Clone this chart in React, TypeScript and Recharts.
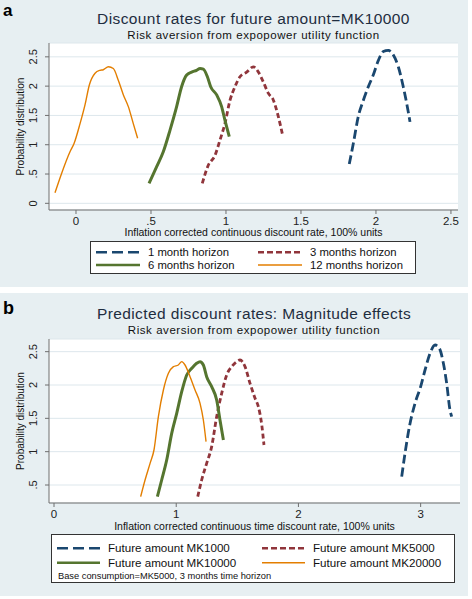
import { LineChart, Line, XAxis, YAxis, CartesianGrid, Label } from "recharts";

type Pt = [number, number];

// panel a: horizons, future amount MK10000
const H1_MONTH: Pt[] = [[1.822, 0.67], [1.849, 1.02], [1.882, 1.48], [1.916, 1.76], [1.949, 1.99], [1.982, 2.19], [2.016, 2.44], [2.049, 2.59], [2.082, 2.61], [2.116, 2.53], [2.149, 2.33], [2.182, 1.99], [2.209, 1.65], [2.227, 1.39]];
const H3_MONTHS: Pt[] = [[0.842, 0.34], [0.882, 0.65], [0.927, 0.82], [0.96, 1.08], [0.993, 1.36], [1.027, 1.76], [1.06, 1.99], [1.093, 2.16], [1.138, 2.24], [1.182, 2.33], [1.216, 2.24], [1.249, 2.07], [1.282, 1.88], [1.316, 1.76], [1.349, 1.48], [1.378, 1.16]];
const H6_MONTHS: Pt[] = [[0.487, 0.34], [0.538, 0.625], [0.582, 0.88], [0.627, 1.25], [0.671, 1.65], [0.704, 1.99], [0.738, 2.19], [0.771, 2.24], [0.804, 2.27], [0.827, 2.3], [0.849, 2.29], [0.876, 2.16], [0.898, 1.99], [0.938, 1.85], [0.971, 1.65], [0.993, 1.42], [1.022, 1.14]];
const H12_MONTHS: Pt[] = [[-0.14, 0.18], [-0.096, 0.51], [-0.04, 0.88], [-0.013, 1.02], [0.027, 1.36], [0.06, 1.68], [0.089, 2.02], [0.127, 2.22], [0.16, 2.27], [0.182, 2.28], [0.216, 2.33], [0.249, 2.3], [0.282, 2.1], [0.316, 1.85], [0.349, 1.65], [0.382, 1.36], [0.411, 1.11]];

// panel b: magnitude effects
const MK1000: Pt[] = [[2.845, 0.625], [2.872, 0.975], [2.908, 1.375], [2.954, 1.725], [3.0, 1.975], [3.036, 2.225], [3.077, 2.475], [3.118, 2.6], [3.153, 2.55], [3.186, 2.325], [3.213, 2.025], [3.24, 1.625], [3.254, 1.525]];
const MK5000: Pt[] = [[1.176, 0.325], [1.208, 0.575], [1.249, 0.825], [1.29, 1.075], [1.331, 1.525], [1.372, 1.875], [1.413, 2.15], [1.454, 2.275], [1.495, 2.35], [1.522, 2.375], [1.563, 2.275], [1.604, 2.025], [1.645, 1.8], [1.672, 1.675], [1.7, 1.4], [1.718, 1.1]];
const MK10000: Pt[] = [[0.846, 0.325], [0.881, 0.575], [0.922, 0.875], [0.963, 1.275], [1.004, 1.575], [1.045, 1.9], [1.086, 2.15], [1.127, 2.25], [1.167, 2.325], [1.195, 2.35], [1.222, 2.3], [1.249, 2.125], [1.29, 1.975], [1.331, 1.775], [1.358, 1.475], [1.386, 1.175]];
const MK20000: Pt[] = [[0.709, 0.325], [0.745, 0.575], [0.786, 0.825], [0.818, 1.025], [0.854, 1.525], [0.895, 1.925], [0.936, 2.175], [0.977, 2.275], [1.017, 2.3], [1.045, 2.35], [1.072, 2.3], [1.113, 2.125], [1.154, 1.925], [1.195, 1.725], [1.222, 1.475], [1.244, 1.15]];

const A_X_TICKS = [0, 0.5, 1, 1.5, 2, 2.5];
const A_Y_TICKS = [0, 0.5, 1, 1.5, 2, 2.5];
const B_X_TICKS = [0, 1, 2, 3];
const B_Y_TICKS = [0.5, 1, 1.5, 2, 2.5];

const A_LEGEND = ["1 month horizon", "3 months horizon", "6 months horizon", "12 months horizon"];
const B_LEGEND = ["Future amount MK1000", "Future amount MK5000", "Future amount MK10000", "Future amount MK20000"];

const FONT = "'Liberation Sans', Arial, sans-serif";
const BG = "#e7eff2";
const GRID = "#dde7ec";
const AXIS = "#6f6f6f";

// navy, maroon, forest green, dark orange
const STYLES = [
  { stroke: "#1a476f", strokeWidth: 2.8, dash: "9 4" },
  { stroke: "#90353b", strokeWidth: 2.8, dash: "5 3" },
  { stroke: "#55752f", strokeWidth: 3, dash: undefined },
  { stroke: "#e37e00", strokeWidth: 1.4, dash: undefined },
];

const fmt = (v: number) => String(v).replace(/^0\./, ".");
const pts = (a: Pt[]) => a.map(([x, y]) => ({ x, y }));

function VTick({ x, y, payload }: any) {
  return (
    <text x={x} y={y} transform={`rotate(-90 ${x} ${y})`} textAnchor="middle" fontSize={11} fill="#222" fontFamily={FONT}>
      {fmt(payload.value)}
    </text>
  );
}

function Panel({ top, marginTop, marginRight, xDomain, yDomain, xTicks, yTicks, xTitle, xTitleOffset, series }: any) {
  return (
    <div style={{ position: "absolute", left: 0, top }}>
      <LineChart width={472} height={260} margin={{ top: marginTop, right: marginRight, bottom: 20, left: 14 }}>
        <CartesianGrid vertical={false} stroke={GRID} fill="#ffffff" />
        <XAxis
          type="number"
          dataKey="x"
          domain={xDomain}
          ticks={xTicks}
          allowDataOverflow
          height={30}
          tickSize={4}
          tickMargin={3}
          stroke={AXIS}
          tick={{ fontSize: 11.5, fill: "#222", fontFamily: FONT }}
          tickFormatter={fmt}
        >
          <Label value={xTitle} position="insideBottom" offset={xTitleOffset} style={{ fontSize: 10.5, fill: "#111", fontFamily: FONT }} />
        </XAxis>
        <YAxis
          type="number"
          dataKey="y"
          domain={yDomain}
          ticks={yTicks}
          allowDataOverflow
          width={35}
          tickSize={4}
          tickMargin={8}
          stroke={AXIS}
          tick={<VTick />}
        >
          <Label value="Probability distribution" angle={-90} position="insideLeft" offset={6} style={{ fontSize: 10, fill: "#111", fontFamily: FONT, textAnchor: "middle" }} />
        </YAxis>
        {series.map((s: Pt[], i: number) => (
          <Line
            key={i}
            data={pts(s)}
            dataKey="y"
            type="monotone"
            dot={false}
            stroke={STYLES[i].stroke}
            strokeWidth={STYLES[i].strokeWidth}
            strokeDasharray={STYLES[i].dash}
            isAnimationActive={false}
          />
        ))}
      </LineChart>
    </div>
  );
}

function LegendRows({ labels, x1, x2, y1, y2, len, fontSize }: any) {
  const cells = [
    [x1, y1], [x2, y1], [x1, y2], [x2, y2],
  ];
  return (
    <g>
      {labels.map((t: string, i: number) => {
        const [x, y] = cells[i];
        return (
          <g key={t}>
            <line x1={x} x2={x + len} y1={y} y2={y} stroke={STYLES[i].stroke} strokeWidth={STYLES[i].strokeWidth === 1.4 ? 1.4 : 2.6} strokeDasharray={STYLES[i].dash === "9 4" ? "11 5" : STYLES[i].dash === "5 3" ? "6 3" : undefined} />
            <text x={x + len + 8} y={y + fontSize * 0.36} fontSize={fontSize} fill="#111" fontFamily={FONT}>{t}</text>
          </g>
        );
      })}
    </g>
  );
}

export default function App() {
  return (
    <div style={{ position: "absolute", left: 0, top: 0, width: 472, height: 599, background: "#fff", overflow: "hidden" }}>
      <svg width={472} height={599} style={{ position: "absolute", left: 0, top: 0 }}>
        <rect x={0} y={0} width={468} height={287} fill={BG} />
        <rect x={0} y={293} width={468} height={303} fill={BG} />
        <text x={3} y={16} fontSize={17} fontWeight="bold" fill="#000" fontFamily={FONT}>a</text>
        <text x={253.5} y={24} textAnchor="middle" fontSize={15.5} letterSpacing={0.4} fill="#1e2d40" fontFamily={FONT}>Discount rates for future amount=MK10000</text>
        <text x={253.5} y={38.5} textAnchor="middle" fontSize={11.5} letterSpacing={0.55} fill="#111" fontFamily={FONT}>Risk aversion from expopower utility function</text>
        <text x={3} y={314} fontSize={18} fontWeight="bold" fill="#000" fontFamily={FONT}>b</text>
        <text x={254} y={318.5} textAnchor="middle" fontSize={15.5} letterSpacing={0.4} fill="#1e2d40" fontFamily={FONT}>Predicted discount rates: Magnitude effects</text>
        <text x={254} y={334} textAnchor="middle" fontSize={11.5} letterSpacing={0.55} fill="#111" fontFamily={FONT}>Risk aversion from expopower utility function</text>

        <rect x={90.5} y={241.5} width={325} height={32} fill="#fff" stroke="#333" />
        <LegendRows labels={A_LEGEND} x1={96} x2={258} y1={252.3} y2={265} len={44} fontSize={11.3} />

        <rect x={51.5} y={534.5} width={403} height={48} fill="#fff" stroke="#333" />
        <LegendRows labels={B_LEGEND} x1={57} x2={262} y1={548.3} y2={562.7} len={43} fontSize={11.6} />
        <text x={58} y={578.5} fontSize={9.3} fill="#111" fontFamily={FONT}>Base consumption=MK5000, 3 months time horizon</text>
      </svg>

      <Panel
        top={0}
        marginTop={43}
        marginRight={14}
        xDomain={[-0.18, 2.547]}
        yDomain={[-0.114, 2.736]}
        xTicks={A_X_TICKS}
        yTicks={A_Y_TICKS}
        xTitle="Inflation corrected continuous discount rate, 100% units"
        xTitleOffset={4}
        series={[H1_MONTH, H3_MONTHS, H6_MONTHS, H12_MONTHS]}
      />
      <Panel
        top={293}
        marginTop={46}
        marginRight={12}
        xDomain={[-0.041, 3.322]}
        yDomain={[0.23, 2.69]}
        xTicks={B_X_TICKS}
        yTicks={B_Y_TICKS}
        xTitle="Inflation corrected continuous time discount rate, 100% units"
        xTitleOffset={3}
        series={[MK1000, MK5000, MK10000, MK20000]}
      />
    </div>
  );
}
